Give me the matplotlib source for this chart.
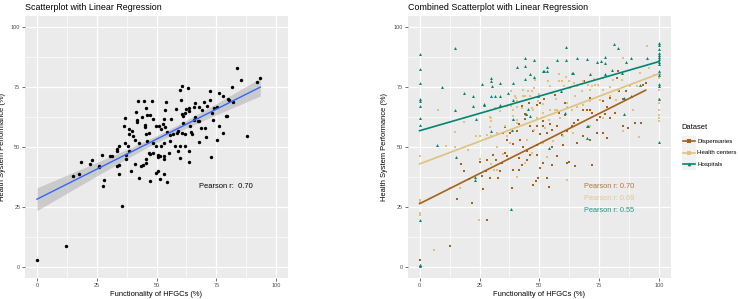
import numpy as np
import matplotlib
matplotlib.use("Agg")
import matplotlib.pyplot as plt
from matplotlib.lines import Line2D
from matplotlib.patches import Rectangle

plt.rcParams['font.family'] = ['Liberation Sans', 'DejaVu Sans']

# ---------------- Left panel data ----------------
left_x = [83.7, 85.2, 93.4, 92.1, 60.8, 63.3, 81.5, 59.7, 72.5, 76.2, 77.7, 80.1, 80.5, 82.1,
          42.1, 44.6, 48.0, 53.8, 60.4, 66.2, 70.0, 72.5,
          45.5, 41.6, 53.7, 58.3, 62.2, 63.7, 65.8, 67.9, 71.0, 74.2, 75.2,
          36.8, 46.0, 47.4, 48.7, 44.1, 41.8, 53.3, 56.2, 60.7, 61.2, 61.9, 63.6, 66.1, 67.8, 69.0, 73.1,
          36.5, 38.6, 41.8, 45.3, 45.0, 49.8, 51.2, 52.0, 52.9, 53.6, 61.1, 64.0, 65.7, 67.5, 68.8, 70.4, 73.8, 76.2, 78.9, 79.5,
          38.5, 39.6, 40.3, 40.9, 38.1, 45.5, 46.9, 54.3, 55.6, 57.0, 58.4, 59.1, 60.5, 62.1, 64.4, 64.9, 70.7, 67.9, 75.2, 77.7, 87.7,
          33.6, 34.4, 36.8, 42.8, 45.9, 48.7, 49.8, 51.9, 53.3, 55.6, 57.7, 59.8, 62.1,
          0.0, 12.1, 35.6, 15.2, 17.7, 18.3, 22.3, 23.1, 25.8, 26.0, 27.1, 28.1, 27.8, 30.6, 31.5, 33.6, 34.2, 34.5,
          37.1, 37.3, 39.5, 40.9, 42.7, 43.6, 44.2, 45.7, 45.8, 46.8, 47.4, 47.2, 48.5, 49.8, 50.8, 50.5, 50.8, 51.6,
          51.5, 53.1, 53.3, 53.1, 54.3, 55.1, 59.8, 63.5, 72.6, 63.4, 59.2, 33.4, 38.6]
left_y = [83.0, 77.9, 79.0, 77.3, 75.4, 74.6, 75.1, 73.7, 73.6, 72.6, 71.5, 70.3, 69.6, 68.7,
          69.4, 69.4, 69.4, 69.0, 69.7, 68.4, 68.7, 69.7,
          66.2, 64.9, 65.5, 66.1, 65.9, 66.2, 66.8, 66.9, 67.3, 66.3, 67.0,
          62.2, 63.3, 63.3, 61.9, 62.6, 60.6, 62.0, 62.0, 63.7, 62.9, 64.3, 65.2, 62.5, 61.1, 65.5, 64.3,
          58.7, 57.7, 61.3, 59.4, 58.3, 59.0, 58.7, 57.6, 59.5, 58.6, 60.1, 59.0, 61.5, 60.8, 58.0, 58.0, 61.3, 58.8, 62.9, 63.0,
          55.5, 56.6, 54.5, 53.1, 50.7, 55.6, 55.9, 56.2, 55.2, 55.4, 55.9, 56.6, 55.9, 55.4, 56.2, 55.4, 54.1, 52.0, 53.1, 55.8, 54.5,
          49.4, 50.4, 51.8, 51.8, 52.4, 51.8, 50.4, 50.6, 51.8, 52.4, 50.6, 50.4, 50.4,
          3.0, 8.6, 25.5, 38.1, 38.7, 43.8, 42.8, 44.8, 41.7, 42.0, 46.6, 36.3, 33.9, 46.4, 46.2, 42.0, 42.4, 38.7,
          45.0, 46.7, 40.1, 43.2, 37.0, 42.0, 42.5, 43.5, 45.1, 47.4, 47.0, 35.9, 47.6, 39.2, 40.0, 46.8, 46.0, 46.3,
          36.8, 38.8, 46.4, 45.1, 35.3, 47.4, 45.5, 44.0, 45.9, 48.4, 48.5, 48.5, 48.3]

# ---------------- Right panel data ----------------
disp_x = [94.4, 93.3, 86.1, 85.0, 83.3, 79.5, 78.1, 82.9, 82.6, 76.7, 71.1, 60.7, 60.8, 58.1, 54.5, 51.7,
          50.3, 45.6, 42.8, 38.2, 44.2, 44.2, 41.4, 35.8, 35.0, 37.8, 40.6, 36.4, 39.2, 42.0, 46.1, 47.5,
          48.9, 50.3, 51.7, 53.1, 55.1, 57.2, 59.3, 61.4, 63.5, 64.5, 66.3, 68.3, 70.0, 71.8, 73.9, 75.3,
          77.4, 79.5, 81.5, 85.0, 73.9, 78.1, 71.1, 65.6, 43.3, 60.0, 55.1, 48.9, 68.3, 76.7, 87.1, 89.9,
          92.6, 71.1, 56.7, 68.5, 71.3, 52.0, 49.0,
          0.0, 12.5, 15.8, 28.3, 26.4, 20.6, 17.4, 18.4, 26.1, 27.8, 29.5, 32.8, 33.6, 34.3, 36.4, 38.6,
          39.2, 41.3, 42.8, 44.7, 47.5, 48.5, 49.6, 50.3, 53.1, 53.9, 51.7, 55.2, 57.2, 61.4, 62.5, 65.0,
          72.2, 44.7, 46.1, 48.9, 41.3, 35.7, 30.8, 25.3, 28.1, 31.7, 21.7]
disp_y = [77.0, 75.9, 73.6, 70.3, 73.3, 70.5, 67.0, 81.9, 79.1, 69.1, 70.5, 68.4, 63.6, 64.5, 59.8, 60.8,
          68.4, 68.4, 67.3, 67.3, 64.0, 61.7, 59.8, 58.3, 55.9, 55.9, 56.6, 53.1, 51.4, 53.1, 58.7, 56.6,
          58.7, 55.6, 58.7, 55.9, 57.3, 58.7, 55.2, 56.6, 58.7, 60.1, 61.2, 65.6, 65.5, 64.3, 61.5, 62.6,
          63.7, 62.2, 64.3, 58.7, 55.9, 53.8, 53.1, 51.7, 50.3, 51.0, 50.3, 51.0, 54.5, 55.9, 58.0, 60.1,
          60.1, 65.6, 71.9, 77.5, 74.0, 70.0, 67.5,
          3.0, 8.7, 28.4, 19.7, 32.5, 36.7, 43.0, 40.2, 38.1, 39.9, 37.1, 37.3, 39.9, 43.4, 46.2, 33.0,
          40.6, 40.6, 42.7, 44.8, 34.2, 35.7, 37.1, 41.3, 37.1, 33.2, 43.4, 42.7, 46.2, 43.4, 43.8, 42.0,
          42.4, 48.3, 46.9, 46.9, 45.5, 47.6, 46.9, 43.7, 44.8, 44.5, 26.7]

hc_x = [0.0, 0.0, 0.0, 0.0, 0.0, 5.9, 12.5, 16.7, 24.9, 20.2, 31.0, 32.3, 40.6, 61.4, 53.4, 43.8,
        7.5, 11.1, 14.9, 14.9, 18.6, 23.6, 29.2, 29.5, 29.7, 31.5, 33.6, 36.4, 38.3, 38.2, 40.3, 40.6,
        43.1, 44.2, 46.1, 47.8, 50.0, 49.6, 51.7, 53.5, 54.5, 55.4, 56.9, 58.2, 58.2, 59.3, 60.3, 61.1,
        62.4, 62.8, 64.5, 65.6, 68.3, 70.4, 71.1, 72.8, 74.7, 76.7, 79.5, 80.8, 82.9, 85.0, 84.7, 87.8,
        90.6, 92.2, 94.9, 95.8, 97.8,
        100.0, 100.0, 100.0, 100.0, 100.0, 100.0, 100.0, 100.0,
        28.1, 32.2, 35.7, 39.2, 40.6, 44.7, 47.5, 48.9, 51.7, 54.5, 56.5, 58.6, 61.4, 63.5, 65.6, 68.3,
        71.1, 75.3, 79.5, 82.2, 89.2, 91.7, 85.0, 76.7, 71.1, 64.2, 60.0, 55.8, 51.7, 44.7, 37.8, 32.2,
        25.0, 30.0, 35.0, 47.0, 37.0,
        25.3, 29.6, 29.6, 39.8, 40.7, 43.0, 45.1, 46.8, 48.3, 38.9, 42.8, 46.8, 39.0, 40.7, 36.3, 47.9,
        76.5, 72.0, 67.8, 65.0, 61.5, 57.4, 53.9, 52.5, 73.3]
hc_y = [46.2, 27.8, 22.5, 21.5, 27.0, 7.2, 33.0, 33.0, 19.7, 48.7, 40.6, 40.3, 37.6, 36.4, 45.9, 43.4,
        65.4, 50.7, 56.3, 50.3, 60.5, 54.5, 62.6, 58.3, 54.5, 66.5, 65.2, 67.3, 67.3, 73.3, 70.4, 67.0,
        73.7, 71.2, 71.2, 74.8, 72.2, 69.1, 68.2, 77.5, 75.4, 72.6, 70.1, 80.7, 77.5, 77.5, 75.4, 79.3,
        77.5, 74.7, 76.8, 75.4, 77.8, 76.0, 74.0, 78.5, 76.1, 73.7, 75.1, 78.2, 73.7, 87.2, 78.2, 75.4,
        75.4, 81.0, 92.1, 83.0, 80.3,
        74.0, 68.4, 65.6, 63.5, 62.2, 60.8, 70.1, 78.9,
        55.2, 55.9, 59.0, 62.9, 60.1, 63.6, 65.6, 62.2, 64.3, 65.6, 65.6, 62.2, 67.0, 65.6, 67.0, 67.7,
        69.1, 69.8, 71.2, 69.8, 65.6, 54.2, 56.6, 62.2, 58.7, 55.9, 54.5, 52.4, 51.7, 53.1, 51.7, 50.3,
        45.0, 43.0, 47.0, 47.5, 45.0,
        54.9, 62.2, 61.1, 71.5, 69.1, 71.5, 73.6, 73.5, 77.9, 65.6, 66.3, 66.3, 61.5, 61.5, 54.5, 57.3,
        79.1, 75.4, 73.3, 71.2, 68.4, 65.6, 61.5, 58.0, 76.1]

hosp_x = [0.0, 0.0, 0.0, 0.0, 0.0, 0.0, 0.0, 0.0, 0.0, 0.0, 0.0, 0.0,
          14.9, 9.3, 14.9, 18.5, 22.3, 22.3, 23.7, 26.0, 26.7, 29.6, 29.6, 29.6, 30.4, 31.5, 33.4, 33.4,
          33.4, 37.0, 38.8, 38.8, 40.7, 44.2, 44.2, 44.2, 46.1, 47.9, 47.9, 49.6, 51.4, 53.4, 53.4, 57.2,
          61.1, 61.1, 63.7, 65.8, 70.1, 71.1, 73.9, 75.7, 77.5, 77.5, 77.5, 80.3, 81.3, 82.9, 84.6, 85.4,
          86.4, 88.2, 94.9, 92.2, 85.3, 88.2, 70.0, 38.8, 45.4, 70.4, 69.7, 23.3, 23.3, 38.0, 15.0,
          7.4, 29.6, 38.5, 44.5, 46.2, 26.8, 60.8, 53.9, 51.8, 63.9, 59.0,
          100.0, 100.0, 100.0, 100.0, 100.0, 100.0, 100.0, 100.0, 100.0, 100.0, 100.0, 100.0, 100.0,
          100.0, 100.0, 100.0]
hosp_y = [88.8, 82.6, 76.7, 70.1, 69.5, 67.3, 62.3, 59.2, 19.5, 1.0, 0.3, 0.7,
          91.5, 75.1, 65.4, 72.6, 71.2, 67.3, 62.0, 76.4, 68.0, 79.1, 77.7, 71.6, 75.4, 71.6, 76.9, 71.6,
          67.5, 72.5, 76.7, 69.9, 83.7, 87.3, 83.8, 78.6, 80.7, 86.6, 79.3, 71.2, 81.8, 83.5, 81.8, 86.5,
          91.7, 86.3, 81.1, 87.3, 86.8, 80.7, 85.6, 86.2, 87.6, 85.1, 80.4, 82.2, 93.0, 91.4, 81.1, 70.5,
          85.5, 87.2, 87.2, 75.8, 63.9, 71.5, 59.0, 61.9, 65.8, 58.7, 53.9, 37.5, 36.5, 24.2, 46.0,
          50.8, 56.9, 57.3, 64.0, 62.9, 67.7, 64.5, 49.7, 82.0, 81.0, 73.6,
          93.7, 92.5, 91.0, 89.5, 88.5, 87.5, 86.8, 85.5, 84.8, 82.0, 81.0, 80.2, 76.5, 75.5, 70.0, 52.0]

series_names = ["Dispensaries", "Health centers", "Hospitals"]
series_r = ["0.70", "0.69", "0.55"]
ticks = [0, 25, 50, 75, 100]

COL = {"Dispensaries": "#A6611A", "Health centers": "#DFC27D", "Hospitals": "#018571"}
MARK = {"Dispensaries": "s", "Health centers": "s", "Hospitals": "^"}

W, H = 738, 299
fig = plt.figure(figsize=(W / 100, H / 100), dpi=100)


def fx(p):
    return p / W


def fy(p):
    return 1 - p / H


def px_axes(x0, x1, y0, y1):
    return fig.add_axes([x0 / W, 1 - y1 / H, (x1 - x0) / W, (y1 - y0) / H])


def style(ax, ylab_x):
    ax.set_facecolor("#EBEBEB")
    for s in ax.spines.values():
        s.set_visible(False)
    ax.set_xlim(-5, 105)
    ax.set_ylim(-4.6, 104.8)
    ax.set_xticks(ticks)
    ax.set_yticks(ticks)
    ax.set_xticks([12.5, 37.5, 62.5, 87.5], minor=True)
    ax.set_yticks([12.5, 37.5, 62.5, 87.5], minor=True)
    ax.grid(which="major", color="white", lw=0.9)
    ax.grid(which="minor", color="white", lw=0.45)
    ax.set_axisbelow(True)
    ax.tick_params(which="major", length=2.2, width=0.5, color="#333333",
                   labelcolor="#4D4D4D", labelsize=4.0, pad=1.2)
    ax.tick_params(which="minor", length=0)
    ax.set_xlabel("Functionality of HFGCs (%)", fontsize=5.4, color="black")
    ax.set_ylabel("Health System Performance (%)", fontsize=5.4, color="black")
    ax.xaxis.set_label_coords(0.5, -12.5 / 262, transform=ax.transAxes)
    ax.yaxis.set_label_coords(ylab_x, 0.5, transform=ax.transAxes)


def fit_line(x, y):
    x = np.asarray(x, float)
    y = np.asarray(y, float)
    b, a = np.polyfit(x, y, 1)
    xs = np.linspace(x.min(), x.max(), 80)
    return x, y, a, b, xs


# ---------- Left ----------
axL = px_axes(25, 288, 16, 278)
style(axL, (6.5 - 25) / 263)
x, y, a, b, xs = fit_line(left_x, left_y)
n = len(x)
res = y - (a + b * x)
s = np.sqrt(np.sum(res ** 2) / (n - 2))
se = s * np.sqrt(1 / n + (xs - x.mean()) ** 2 / np.sum((x - x.mean()) ** 2))
yh = a + b * xs
axL.fill_between(xs, yh - 1.97 * se, yh + 1.97 * se, color="#999999", alpha=0.4, lw=0, zorder=2)
axL.scatter(left_x, left_y, s=6, color="black", lw=0, zorder=3)
axL.plot(xs, yh, color="#3366FF", lw=1.0, zorder=4)
axL.text(79, 33.4, "Pearson r:  0.70", fontsize=5.4, ha="center", va="center", color="black")
fig.text(fx(25), fy(7), "Scatterplot with Linear Regression", fontsize=6.4,
         ha="left", va="center")

# ---------- Right ----------
axR = px_axes(407.7, 671, 16, 278)
style(axR, (388 - 407.7) / 263.3)
data = {"Dispensaries": (disp_x, disp_y), "Health centers": (hc_x, hc_y), "Hospitals": (hosp_x, hosp_y)}
for name in series_names:
    dx, dy = data[name]
    axR.scatter(dx, dy, s=4.5, marker=MARK[name], color=COL[name], lw=0, zorder=3)
for name in series_names:
    dx, dy = data[name]
    x, y, a, b, xs = fit_line(dx, dy)
    axR.plot(xs, a + b * xs, color=COL[name], lw=1.2, zorder=4)
for name, r, yy in zip(series_names, series_r, [33.4, 28.4, 23.4]):
    axR.text(79.3, yy, "Pearson r: " + r, fontsize=5.3, ha="center", va="center",
             color=COL[name], alpha=0.85)
fig.text(fx(407.7), fy(7), "Combined Scatterplot with Linear Regression", fontsize=6.4,
         ha="left", va="center")

# ---------- Legend ----------
fig.text(fx(681.7), fy(127.7), "Dataset", fontsize=5.4, ha="left", va="center")
for name, yk in zip(series_names, [141.3, 152.9, 164.4]):
    fig.patches.append(Rectangle((fx(681.5), fy(yk + 5.6)), 14.5 / W, 11.2 / H,
                                 transform=fig.transFigure, facecolor="#F2F2F2",
                                 edgecolor="none", zorder=1))
    fig.lines.append(Line2D([fx(683), fx(695)], [fy(yk), fy(yk)], transform=fig.transFigure,
                            color=COL[name], lw=1.2, zorder=2))
    fig.lines.append(Line2D([fx(689)], [fy(yk)], transform=fig.transFigure, color=COL[name],
                            marker=MARK[name], markersize=2.6, markeredgewidth=0, zorder=3))
    fig.text(fx(697), fy(yk), name, fontsize=4.4, ha="left", va="center")

fig.savefig("out.png", dpi=100)
